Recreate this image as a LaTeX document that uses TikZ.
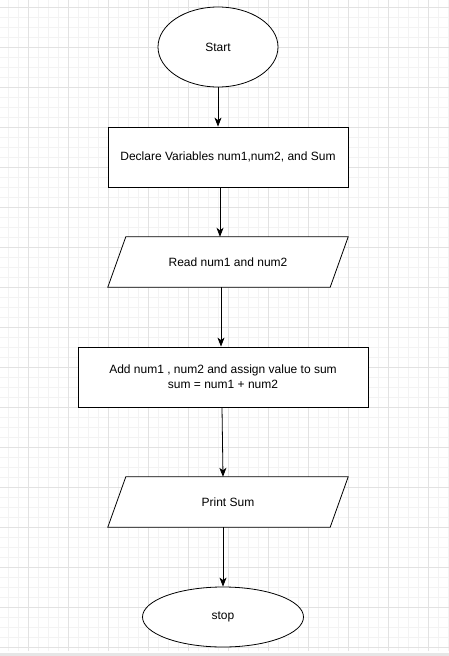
\documentclass[tikz,border=0pt]{standalone}
\usepackage{fontspec}
\setmainfont{Liberation Sans}
\usetikzlibrary{shapes.geometric,arrows.meta}
\definecolor{gridminor}{HTML}{F3F3F3}
\definecolor{gridmajor}{HTML}{E2E2E2}
\definecolor{scrollbar}{HTML}{E6E6E6}
\pgfdeclarelayer{grid}
\pgfdeclarelayer{fills}
\pgfsetlayers{grid,fills,main}
\begin{document}
\begin{tikzpicture}[x=1pt,y=-1pt,
		every node/.style={font=\fontsize{12}{15}\selectfont, text=black},
		terminal/.style={draw, thick, ellipse, fill=white, inner sep=0pt},
		process/.style={draw, thick, rectangle, fill=white, inner sep=0pt},
		io/.style={rectangle, inner sep=0pt, minimum width=222pt, minimum height=50pt},
		iobox/.style={draw, thick, fill=white},
		flow/.style={thick, -{Stealth[length=9pt,width=7pt,inset=2.5pt]}}]
		\useasboundingbox (0,0) rectangle (449,656);
		% background grid
		\begin{pgfonlayer}{grid}
			\fill[white] (0,0) rectangle (449,656);
			\foreach \x in {8,18,...,448}
				\draw[gridminor, line width=0.8pt] (\x,0) -- (\x,651);
			\foreach \y in {7,17,...,647}
				\draw[gridminor, line width=0.8pt] (0,\y) -- (449,\y);
			\foreach \x in {28,68,...,428}
				\draw[gridmajor, line width=0.8pt] (\x,0) -- (\x,651);
			\foreach \y in {7,47,...,647}
				\draw[gridmajor, line width=0.8pt] (0,\y) -- (449,\y);
			\fill[scrollbar] (0,653) rectangle (449,656);
		\end{pgfonlayer}

		% flowchart
		\node[terminal, minimum width=120pt, minimum height=80pt] (start) at (218,47) {Start};
		\node[process, minimum width=240pt, minimum height=60pt] (declare) at (228,157) {Declare Variables num1,num2, and Sum};
		\node[io] (read) at (228,262) {Read num1 and num2};
		\node[process, minimum width=290pt, minimum height=60pt, align=center] (add) at (223,377)
			{Add num1 , num2 and assign value to sum\\sum = num1 + num2};
		\node[io] (print) at (228,502) {Print Sum};
		\node[terminal, minimum width=161pt, minimum height=60pt] (stop) at (223,617) {stop};

		% input/output boxes
		\begin{pgfonlayer}{fills}
			\foreach \n in {read,print}
				\draw[iobox] ([xshift=-9pt]\n.south west) -- ([xshift=-9pt]\n.south east)
					-- ([xshift=9pt]\n.north east) -- ([xshift=9pt]\n.north west) -- cycle;
		\end{pgfonlayer}

		\draw[flow] (start.south) -- (start.south |- declare.north);
		\draw[flow] ([xshift=-8pt]declare.south) -- ([xshift=-8pt]declare.south |- read.north);
		\draw[flow] ([xshift=-7pt]read.south) -- ([xshift=-7pt]read.south |- add.north);
		\draw[flow] ([xshift=-1pt]add.south) -- ([xshift=-5pt]print.north);
		\draw[flow] ([xshift=-5pt]print.south) -- (stop.north);
	\end{tikzpicture}
\end{document}
